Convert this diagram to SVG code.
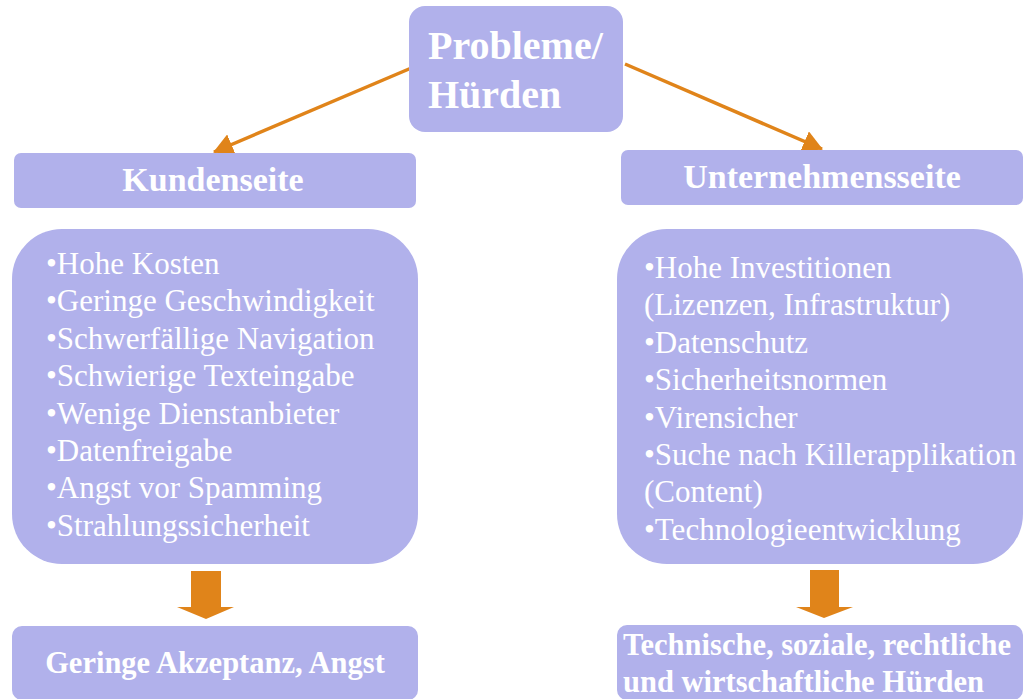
<svg xmlns="http://www.w3.org/2000/svg" width="1026" height="699" viewBox="0 0 1026 699">
<defs>
<style>
.box{fill:#B1B1EB;}
.t{fill:#FFFFFF;font-family:"Liberation Serif","Times New Roman",serif;}
.b{font-weight:bold;}
.list{font-size:31px;}
.con{stroke:#E0841A;stroke-width:3.5;fill:none;}
.blk{fill:#E0841A;}
</style>
<marker id="ah" markerUnits="userSpaceOnUse" markerWidth="20" markerHeight="22" viewBox="0 0 20 22" refX="19" refY="11" orient="auto">
<path d="M0,0 L20,11 L0,22 Z" fill="#E0841A"/>
</marker>
</defs>
<rect width="1026" height="699" fill="#FFFFFF"/>
<g id="connectors">
<path class="con" d="M416,66 L214,152" marker-end="url(#ah)"/>
<path class="con" d="M625,64 L822,149" marker-end="url(#ah)"/>
<polygon class="blk" points="191,571 221,571 221,607 234,607 206,619 177,607 191,607"/>
<polygon class="blk" points="810,570 839,570 839,607 853,607 824,618 796,607 810,607"/>
</g>
<g id="top">
<rect class="box" x="409" y="6" width="214" height="126" rx="16"/>
<text class="t b" x="428" y="59" font-size="40">Probleme/</text>
<text class="t b" x="428" y="108" font-size="40">Hürden</text>
</g>
<g id="kundenseite">
<rect class="box" x="14" y="153" width="402" height="55" rx="7"/>
<text class="t b" x="213" y="191" font-size="34" text-anchor="middle">Kundenseite</text>
</g>
<g id="unternehmensseite">
<rect class="box" x="621" y="150" width="402" height="55" rx="7"/>
<text class="t b" x="822" y="188" font-size="34" text-anchor="middle">Unternehmensseite</text>
</g>
<g id="kunden-liste">
<rect class="box" x="12" y="229" width="406" height="335" rx="50"/>
<text class="t list" x="46" y="274">•Hohe Kosten</text>
<text class="t list" x="46" y="311.4">•Geringe Geschwindigkeit</text>
<text class="t list" x="46" y="348.8">•Schwerfällige Navigation</text>
<text class="t list" x="46" y="386.2">•Schwierige Texteingabe</text>
<text class="t list" x="46" y="423.6">•Wenige Dienstanbieter</text>
<text class="t list" x="46" y="461">•Datenfreigabe</text>
<text class="t list" x="46" y="498.4">•Angst vor Spamming</text>
<text class="t list" x="46" y="535.8">•Strahlungssicherheit</text>
</g>
<g id="unternehmen-liste">
<rect class="box" x="617" y="229" width="406" height="335" rx="50"/>
<text class="t list" x="644" y="278">•Hohe Investitionen</text>
<text class="t list" x="644" y="315.4">(Lizenzen, Infrastruktur)</text>
<text class="t list" x="644" y="352.8">•Datenschutz</text>
<text class="t list" x="644" y="390.2">•Sicherheitsnormen</text>
<text class="t list" x="644" y="427.6">•Virensicher</text>
<text class="t list" x="644" y="465">•Suche nach Killerapplikation</text>
<text class="t list" x="644" y="502.4">(Content)</text>
<text class="t list" x="644" y="539.8">•Technologieentwicklung</text>
</g>
<g id="kunden-ergebnis">
<rect class="box" x="12" y="626" width="406" height="74" rx="10"/>
<text class="t b" x="215" y="673" font-size="30.5" text-anchor="middle">Geringe Akzeptanz, Angst</text>
</g>
<g id="unternehmen-ergebnis">
<rect class="box" x="617" y="625" width="406" height="75" rx="10"/>
<text class="t b" x="623" y="655" font-size="30.5">Technische, soziale, rechtliche</text>
<text class="t b" x="623" y="692" font-size="30.5">und wirtschaftliche Hürden</text>
</g>
</svg>
